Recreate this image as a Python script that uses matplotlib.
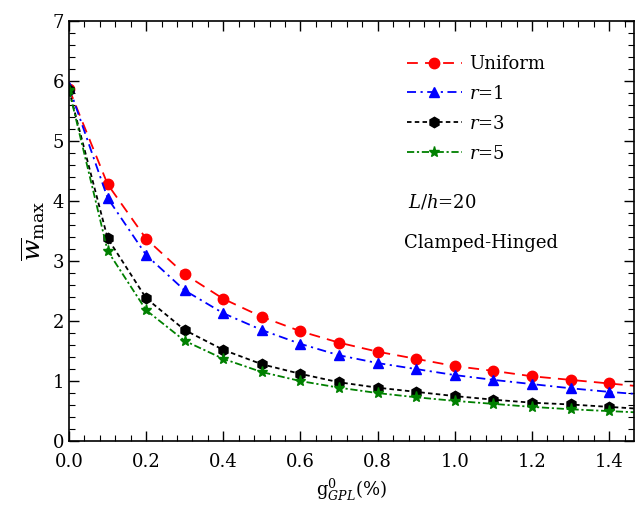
import numpy as np
import matplotlib.pyplot as plt
from matplotlib.ticker import MultipleLocator

plt.rcParams['font.family'] = 'DejaVu Serif'
plt.rcParams['mathtext.fontset'] = 'dejavuserif'

# GPL weight fraction (%)
g_gpl = [0.0, 0.1, 0.2, 0.3, 0.4, 0.5, 0.6, 0.7, 0.8, 0.9, 1.0, 1.1, 1.2, 1.3, 1.4, 1.5]

# dimensionless max deflection
w_uniform = [5.87, 4.28, 3.37, 2.78, 2.37, 2.07, 1.83, 1.64, 1.49, 1.37, 1.25, 1.17, 1.08, 1.02, 0.96, 0.90]
w_r1 = [5.90, 4.05, 3.10, 2.51, 2.13, 1.85, 1.62, 1.43, 1.30, 1.20, 1.10, 1.02, 0.95, 0.88, 0.82, 0.77]
w_r3 = [5.85, 3.38, 2.38, 1.85, 1.52, 1.28, 1.12, 0.98, 0.89, 0.82, 0.75, 0.69, 0.64, 0.61, 0.57, 0.53]
w_r5 = [5.85, 3.17, 2.18, 1.67, 1.37, 1.15, 1.00, 0.89, 0.80, 0.73, 0.67, 0.62, 0.57, 0.53, 0.50, 0.47]

fig = plt.figure(figsize=(6.35, 5.07), dpi=100)
ax = fig.add_axes([0.1087, 0.130, 0.890, 0.8286])

ax.plot(g_gpl, w_uniform, color='red', ls=(0, (6, 4)), lw=1.3, marker='o', ms=7.5, label='Uniform')
ax.plot(g_gpl, w_r1, color='blue', ls=(0, (5, 2.5, 1.2, 2.5)), lw=1.3, marker='^', ms=7.5, label='$r$=1')
ax.plot(g_gpl, w_r3, color='black', ls=(0, (2.5, 1.8)), lw=1.3, marker='h', ms=7.5, label='$r$=3')
ax.plot(g_gpl, w_r5, color='green', ls=(0, (4, 1.5, 1.2, 1.5)), lw=1.3, marker='*', ms=8, label='$r$=5')

ax.set_xlim(0, 1.465)
ax.set_ylim(0, 7)
ax.xaxis.set_major_locator(MultipleLocator(0.2))
ax.xaxis.set_minor_locator(MultipleLocator(0.04))
ax.yaxis.set_major_locator(MultipleLocator(1))
ax.yaxis.set_minor_locator(MultipleLocator(0.2))
ax.xaxis.set_major_formatter(plt.FuncFormatter(lambda v, p: f'{v:.1f}'))
ax.tick_params(which='both', direction='in', top=True, right=True, labelsize=13)
ax.tick_params(axis='x', which='both', pad=8.5)
ax.tick_params(which='major', length=7, width=1)
ax.tick_params(which='minor', length=4, width=0.8)
for s in ax.spines.values():
    s.set_linewidth(1.2)

ax.set_xlabel(r'$\mathrm{g}^{0}_{GPL}$(%)', fontsize=13, labelpad=4)
ax.set_ylabel(r'$\overline{w}_{\mathrm{max}}$', fontsize=18, labelpad=4)

ax.legend(loc='upper left', bbox_to_anchor=(0.57, 0.958), frameon=False, fontsize=13,
          handlelength=3.0, handletextpad=0.4, labelspacing=0.66)

ax.text(0.60, 0.556, '$L$/$h$=20', transform=ax.transAxes, fontsize=13)
ax.text(0.592, 0.459, 'Clamped-Hinged', transform=ax.transAxes, fontsize=13)

fig.savefig('out.png', dpi=100)
